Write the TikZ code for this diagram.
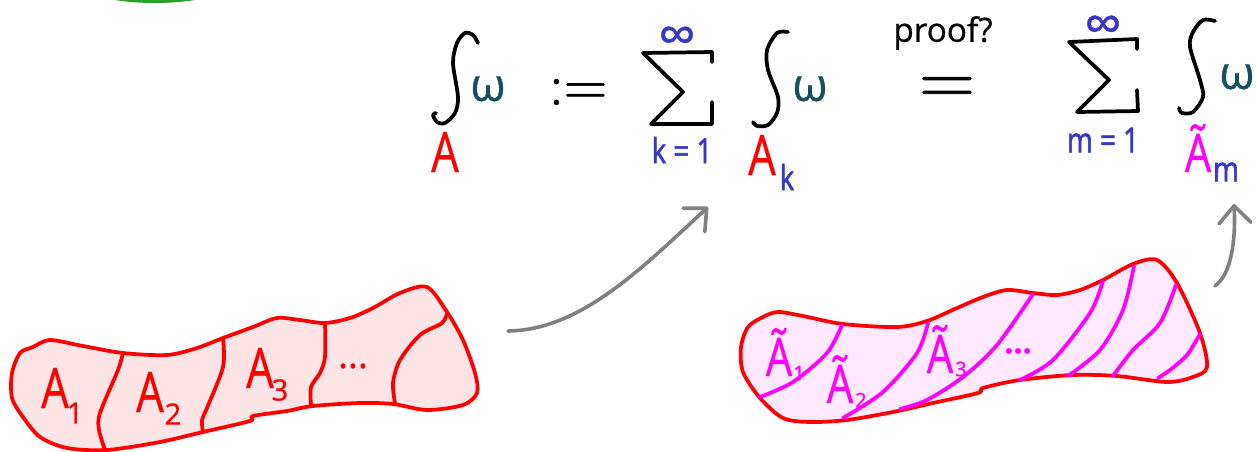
\documentclass[tikz,border=0pt]{standalone}
\usepackage{fontspec}
\newfontfamily\inkfont[FakeBold=0.7]{Open Sans}
\newfontfamily\capfont[FakeStretch=0.78,FakeBold=0.5]{Open Sans}
\newfontfamily\slimfont[FakeStretch=0.8,FakeBold=1.6]{Open Sans}
\newfontfamily\eqfont[FakeBold=1]{Latin Modern Roman}
\usetikzlibrary{calc}
\usetikzlibrary{arrows.meta}
\definecolor{inkteal}{HTML}{16505F}
\definecolor{inkblue}{HTML}{3838C8}
\definecolor{inkgray}{HTML}{808080}
\definecolor{inkgreen}{HTML}{2CA02C}
\definecolor{inkmag}{HTML}{FF00FF}
\definecolor{fillred}{HTML}{FDE5E5}
\definecolor{fillmag}{HTML}{FEE9FE}
\tikzset{
  outline/.style={draw=red,line width=2.8pt,line join=round},
  inkline/.style={line width=2.8pt,line cap=round,line join=round},
  capred/.style={text=red,font=\capfont\fontsize{42}{42}\selectfont},
  capmag/.style={text=inkmag,font=\capfont\fontsize{40}{40}\selectfont,anchor=base},
  subred/.style={text=red,font=\inkfont\fontsize{22}{22}\selectfont},
  submag/.style={text=inkmag,font=\inkfont\fontsize{15}{15}\selectfont},
  subblue/.style={text=inkblue,font=\slimfont\fontsize{26}{26}\selectfont},
  omega/.style={text=inkteal,font=\inkfont\fontsize{34}{34}\selectfont},
  infty/.style={text=inkblue,font=\inkfont\fontsize{40}{40}\selectfont},
  arrowink/.style={draw=inkgray,line width=2.7pt,line cap=round,-{Straight Barb[length=13pt,width=24pt,round]}}
}
\begin{document}
\begin{tikzpicture}[inner sep=0pt,x=0.75pt,y=-0.75pt]
\useasboundingbox (0,0) rectangle (1257,451);
\fill[inkgreen] (115,0) .. controls (140,4) and (170,4) .. (195,0) -- cycle;

\filldraw[outline,fill=fillred] plot[smooth cycle] coordinates {(20,353) (33,347) (50,340) (83,346) (123,353) (167,355) (197,348) (223,338) (253,327) (277,318) (300,320) (325,323) (350,318) (373,308) (400,293) (427,287) (447,312) (463,340) (475,373) (477,393) (463,405) (427,410) (393,404) (360,403) (313,406) (287,411) (253,416) (250,421) (203,432) (160,442) (107,450) (67,448) (40,437) (23,417) (12,398) (12,373)};
\draw[inkline,red] plot[smooth] coordinates {(123,353) (118,370) (100,413) (99,430) (105,450)};
\draw[inkline,red] plot[smooth] coordinates {(223,338) (223,367) (207,408) (202,420) (203,432)};
\draw[inkline,red] plot[smooth] coordinates {(325,323) (325,357) (320,373) (311,387) (311,405)};
\draw[inkline,red] plot[smooth] coordinates {(447,313) (442,323) (420,335) (400,360) (393,383) (395,403)};

\node[capred] (a1) at (55,388) {A} node[subred] (a1s) at ($(a1) + (20,25)$) {1};
\node[capred] (a2) at (150,392) {A} node[subred] (a2s) at ($(a2) + (23,22)$) {2};
\node[capred] (a3) at (260,368) {A} node[subred] (a3s) at ($(a3) + (20,22)$) {3};
\node[text=red,font=\inkfont\fontsize{28}{28}\selectfont] (adots) at (353,366) {...};

\filldraw[outline,fill=fillmag] plot[smooth cycle] coordinates {(748,327) (763,317) (778,312) (803,316) (843,324) (897,327) (927,321) (957,308) (983,297) (1007,290) (1033,293) (1057,295) (1080,290) (1103,280) (1133,264) (1157,260) (1177,283) (1200,333) (1207,367) (1193,377) (1167,382) (1117,376) (1073,375) (1020,380) (983,388) (978,393) (933,403) (893,412) (847,420) (810,422) (783,418) (760,398) (743,372) (741,347)};
\draw[inkline,inkmag] plot[smooth] coordinates {(842,325) (827,353) (793,382) (760,397)};
\draw[inkline,inkmag] plot[smooth] coordinates {(928,323) (917,353) (883,392) (843,418)};
\draw[inkline,inkmag] plot[smooth] coordinates {(1033,294) (997,345) (963,377) (927,400) (900,409)};
\draw[inkline,inkmag] plot[smooth] coordinates {(1103,281) (1090,313) (1053,360) (1020,380)};
\draw[inkline,inkmag] plot[smooth] coordinates {(1134,266) (1123,310) (1100,350) (1068,376)};
\draw[inkline,inkmag] plot[smooth] coordinates {(1176,285) (1160,323) (1133,350) (1113,376)};
\draw[inkline,inkmag] plot[smooth] coordinates {(1200,334) (1187,355) (1170,370) (1158,378)};

\node[capmag] (b1) at (779,376) {Ã} node[submag] (b1s) at ($(b1.base) + (20,-3)$) {1};
\node[capmag] (b2) at (840,403) {Ã} node[submag] (b2s) at ($(b2.base) + (21,-3)$) {2};
\node[capmag] (b3) at (940,373) {Ã} node[submag] (b3s) at ($(b3.base) + (21,-4)$) {3};
\node[text=inkmag,font=\inkfont\bfseries\fontsize{24}{24}\selectfont] (bdots) at (1018,351) {...};

\draw[inkline] plot[smooth] coordinates {(478,43) (473,35) (465,33) (457,43) (453,63) (458,97) (455,113) (445,123) (437,122) (433,115) (436,113)};
\draw[inkline] plot[smooth] coordinates {(788,32) (777,33) (767,50) (768,70) (778,97) (777,113) (768,125) (757,126) (753,122)};
\draw[inkline] plot[smooth] coordinates {(1215,21) (1203,20) (1193,32) (1190,47) (1200,80) (1203,97) (1193,112) (1182,113) (1179,108)};
\draw[inkline] (712,62) -- (712,52) -- (643,53) -- (683,92) -- (651,124) -- (712,124) -- (712,102);
\draw[inkline] (1137,49) -- (1137,39) -- (1069,42) -- (1109,80) -- (1077,112) -- (1138,111) -- (1137,90);

\node[omega] (w1) at (488,89) {ω};
\node[capred] (int1) at (445,152) {A};
\node[font=\eqfont\fontsize{45}{45}\selectfont] (defeq) at (578,92) {:=};
\node[infty] (inf1) at (677,40) {∞};
\node[subblue] (k1) at (682,150) {k = 1};
\node[omega] (w2) at (810,89) {ω};
\node[capred] (int2) at (762,155) {A} node[subblue] (int2s) at ($(int2) + (25,22)$) {k};
\node[font=\inkfont\fontsize{25}{25}\selectfont] (proof) at (943,33) {proof?};
\node[font=\eqfont\fontsize{58}{58}\selectfont] (eq) at (947,91) {=};
\node[infty] (inf2) at (1103,29) {∞};
\node[subblue] (m1) at (1103,140) {m = 1};
\node[omega] (w3) at (1237,77) {ω};
\node[capmag] (int3) at (1198,172) {Ã} node[subblue] (int3s) at ($(int3.base) + (28,0)$) {m};

\coordinate (arrA) at (508,331);
\coordinate (arrB) at (708,207);
\coordinate (arrC) at (1215,286);
\coordinate (arrD) at (1234,204);
\draw[arrowink] (arrA) .. controls (580,330) and (640,270) .. (arrB);
\draw[arrowink] (arrC) .. controls (1230,275) and (1236,245) .. (arrD);
\end{tikzpicture}
\end{document}
